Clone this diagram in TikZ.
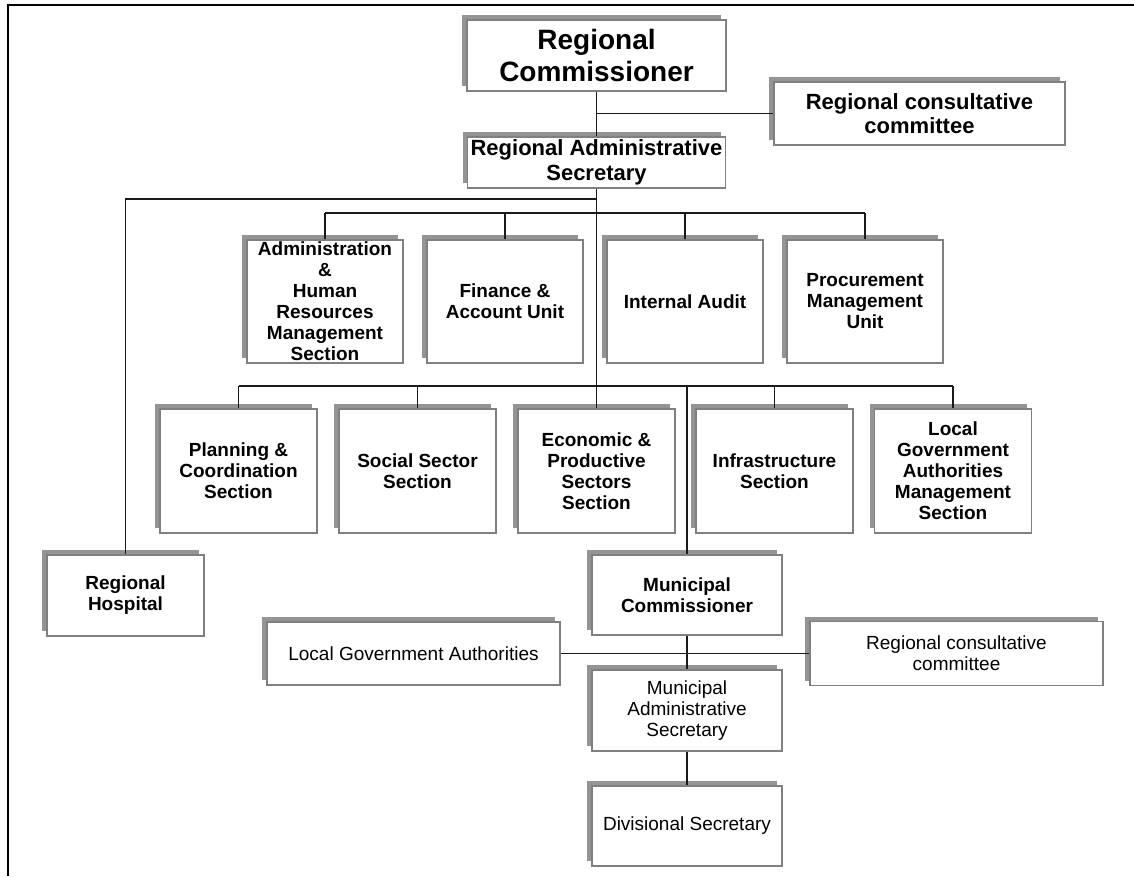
\documentclass[tikz,border=0pt]{standalone}
\usepackage{fontspec}
\setmainfont{Liberation Sans}
\usetikzlibrary{shadows}
\begin{document}
\begin{tikzpicture}[x=1pt,y=-1pt,
  unit/.style={draw=black!50, line width=1.3pt, fill=white, inner sep=0pt, align=center,
    drop shadow={shadow xshift=-5pt, shadow yshift=5pt, opacity=1, fill=black!42}},
  rowunit/.style={unit, minimum width=156pt, minimum height=123pt},
  lowunit/.style={unit, minimum width=190pt, minimum height=80pt},
  boldtext/.style={font=\fontsize{19}{21}\selectfont\bfseries},
  plaintext/.style={font=\fontsize{19}{21}\selectfont},
  link/.style={draw=black!90, line width=1.5pt}]
\useasboundingbox (0,0) rectangle (1134,876);
\fill[white] (0,0) rectangle (1134,876);
% page frame
\draw[line width=2pt] (8,876) -- (8,5) -- (1134,5);

% top of the hierarchy
\node[unit, minimum width=259pt, minimum height=71pt,
      font=\fontsize{28}{32}\selectfont\bfseries] (rc) at (596.5,55.5) {Regional\\Commissioner};
\node[unit, minimum width=291pt, minimum height=63pt,
      font=\fontsize{22}{23.5}\selectfont\bfseries] (rcc) at (919.5,113.5) {Regional consultative\\committee};
\node[unit, minimum width=258pt, minimum height=51pt,
      font=\fontsize{22}{25}\selectfont\bfseries] (ras) at (596.5,162.5) {Regional Administrative\\Secretary};

% first row of units
\node[rowunit, boldtext] (admin) at (325,301.5) {Administration\\\&\\Human\\Resources\\Management\\Section};
\node[rowunit, boldtext] (fin)   at (505,301.5) {Finance \&\\Account Unit};
\node[rowunit, boldtext] (audit) at (685,301.5) {Internal Audit};
\node[rowunit, boldtext] (proc)  at (865,301.5) {Procurement\\Management\\Unit};

% second row of sections
\node[rowunit, minimum width=157pt, minimum height=124pt, boldtext] (plan)  at (238.5,471) {Planning \&\\Coordination\\Section};
\node[rowunit, minimum width=157pt, minimum height=124pt, boldtext] (soc)   at (417.5,471) {Social Sector\\Section};
\node[rowunit, minimum width=157pt, minimum height=124pt, boldtext] (econ)  at (596.5,471) {Economic \&\\Productive\\Sectors\\Section};
\node[rowunit, minimum width=157pt, minimum height=124pt, boldtext] (infra) at (774.5,471) {Infrastructure\\Section};
\node[rowunit, minimum width=157pt, minimum height=124pt, boldtext] (lgam)  at (953,471) {Local\\Government\\Authorities\\Management\\Section};

% lower part
\node[unit, minimum width=157pt, minimum height=81pt, boldtext] (hosp) at (125.5,595.5) {Regional\\Hospital};
\node[lowunit, boldtext] (mc) at (687,595) {Municipal\\Commissioner};
\node[unit, minimum width=293pt, minimum height=63pt, plaintext] (lga) at (413.5,653.5) {Local Government Authorities};
\node[unit, minimum width=293pt, minimum height=64pt, plaintext] (lrcc) at (956.5,653.5) {Regional consultative\\committee};
\node[lowunit, minimum height=81pt, plaintext] (mas) at (687,710.5) {Municipal\\Administrative\\Secretary};
\node[lowunit, plaintext] (ds) at (687,826) {Divisional Secretary};

% bus levels
\coordinate (branch) at (0,199);
\coordinate (bus1) at (0,213);
\coordinate (bus2) at (0,386);

% connectors
\draw[link] (rc.south) -- (ras.north);
\draw[link] (rc.south |- rcc.west) -- (rcc.west);
\draw[link] (ras.south) -- (econ.north);
\draw[link] (ras.south |- branch) -| (hosp.north);
\draw[link] (admin.north |- bus1) -- (proc.north |- bus1);
\foreach \u in {admin,fin,audit,proc}
  \draw[link] (\u.north |- bus1) -- (\u.north);
\draw[link] (plan.north |- bus2) -- (lgam.north |- bus2);
\foreach \u in {plan,soc,infra,lgam}
  \draw[link] (\u.north |- bus2) -- (\u.north);
\draw[link] (mc.north |- bus2) -- (mc.north);
\draw[link] (mc.south) -- (mas.north);
\draw[link] (lga.east) -- (lga.east -| lrcc.west);
\draw[link] (mas.south) -- (ds.north);
\end{tikzpicture}
\end{document}
